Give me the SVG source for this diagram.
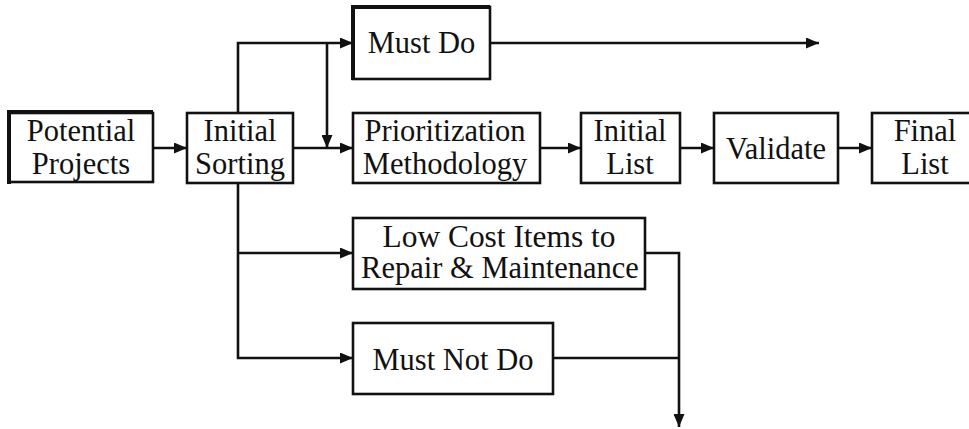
<svg xmlns="http://www.w3.org/2000/svg" width="969" height="429" viewBox="0 0 969 429">
  <style>
    .box { fill: #fff; stroke: #111; stroke-width: 2.6; }
    .edge { stroke: #111; stroke-width: 4; fill: none; }
    .lbl { font-family: "Liberation Serif", "Times New Roman", serif; font-size: 30.5px; fill: #111; text-anchor: middle; }
    .wire { fill: none; stroke: #111; stroke-width: 2.6; }
  </style>
  <defs>
    <marker id="arrow" markerUnits="userSpaceOnUse" markerWidth="13" markerHeight="11" refX="13" refY="5.5" orient="auto">
      <path d="M0,0 L13,5.5 L0,11 z" fill="#111"/>
    </marker>
  </defs>
  <rect width="969" height="429" fill="#fff"/>

  <!-- connectors -->
  <g id="connectors" class="wire" marker-end="url(#arrow)">
    <path d="M153,148 H187"/>
    <path d="M293,148 H353"/>
    <path d="M238,113 V43 H353"/>
    <path d="M327,43 V148"/>
    <path d="M490,43 H819"/>
    <path d="M238,183 V358 H353"/>
    <path d="M238,253 H353"/>
    <path d="M540,148 H581"/>
    <path d="M680,148 H714"/>
    <path d="M838,148 H872"/>
    <path d="M645,253 H679 V427"/>
    <path d="M553,358 H679" marker-end="none"/>
  </g>

  <g id="potential-projects">
    <rect class="box" x="9" y="113" width="144" height="69"/>
    <path class="edge" d="M9,184 V112 H153"/>
    <text class="lbl" x="81" y="141">Potential</text>
    <text class="lbl" x="81" y="174">Projects</text>
  </g>

  <g id="initial-sorting">
    <rect class="box" x="187" y="113" width="106" height="70"/>
    <text class="lbl" x="240" y="141">Initial</text>
    <text class="lbl" x="240" y="174">Sorting</text>
  </g>

  <g id="must-do">
    <rect class="box" x="353" y="7" width="137" height="72"/>
    <path class="edge" d="M353,80 V7 H490"/>
    <text class="lbl" x="421.5" y="53">Must Do</text>
  </g>

  <g id="prioritization">
    <rect class="box" x="353" y="113" width="187" height="70"/>
    <text class="lbl" x="445" y="141">Prioritization</text>
    <text class="lbl" x="445" y="174">Methodology</text>
  </g>

  <g id="initial-list">
    <rect class="box" x="581" y="113" width="99" height="70"/>
    <text class="lbl" x="630" y="141">Initial</text>
    <text class="lbl" x="630" y="174">List</text>
  </g>

  <g id="validate">
    <rect class="box" x="714" y="113" width="124" height="70"/>
    <text class="lbl" x="776" y="159">Validate</text>
  </g>

  <g id="final-list">
    <rect class="box" x="872" y="113" width="106" height="70"/>
    <text class="lbl" x="925" y="141">Final</text>
    <text class="lbl" x="925" y="174">List</text>
  </g>

  <g id="low-cost">
    <rect class="box" x="353" y="218" width="292" height="71"/>
    <text class="lbl" x="499" y="247" textLength="233" lengthAdjust="spacingAndGlyphs">Low Cost Items to</text>
    <text class="lbl" x="500" y="278">Repair &amp; Maintenance</text>
  </g>

  <g id="must-not-do">
    <rect class="box" x="353" y="323" width="200" height="71"/>
    <text class="lbl" x="453" y="370">Must Not Do</text>
  </g>
</svg>
